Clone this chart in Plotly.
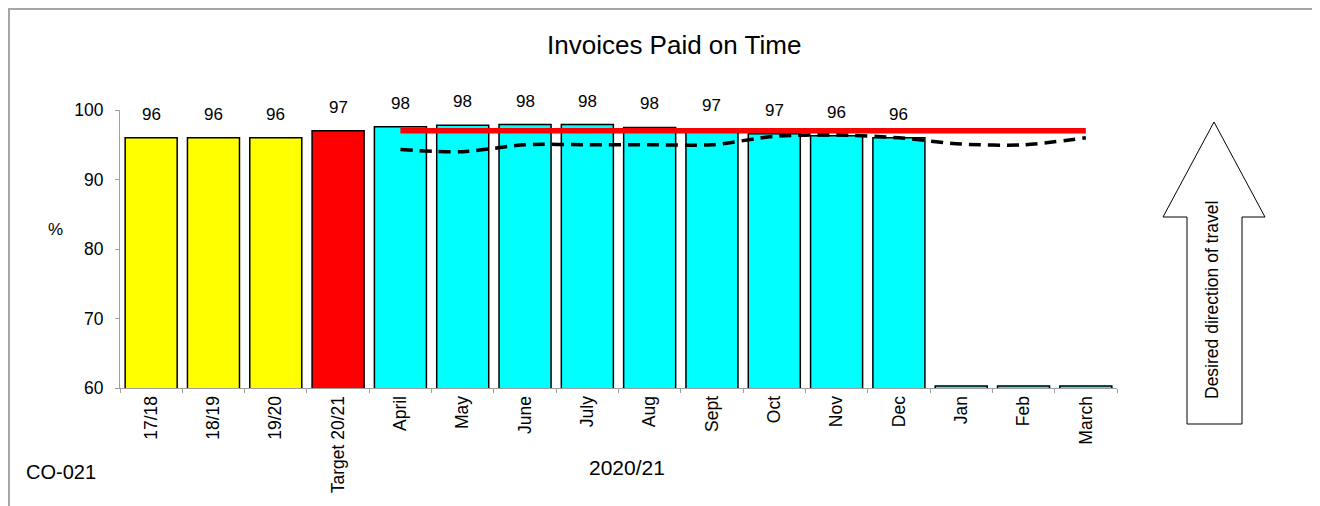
import plotly.graph_objects as go

categories = ["17/18", "18/19", "19/20", "Target 20/21", "April", "May", "June", "July",
              "Aug", "Sept", "Oct", "Nov", "Dec", "Jan", "Feb", "March"]
bar_values = [96.0, 96.0, 96.0, 97.0, 97.6, 97.8, 97.9, 97.9,
              97.5, 97.2, 96.6, 96.3, 96.0, 60.3, 60.3, 60.3]
bar_labels = ["96", "96", "96", "97", "98", "98", "98", "98",
              "98", "97", "97", "96", "96", "", "", ""]
bar_colors = ["#FFFF00"] * 3 + ["#FF0000"] + ["#00FFFF"] * 12

months = ["April", "May", "June", "July", "Aug", "Sept", "Oct", "Nov", "Dec", "Jan", "Feb", "March"]
target_values = [97] * 12
prev_values = [94.3, 94.0, 95.0, 95.0, 95.0, 95.0, 96.2, 96.4, 96.0, 95.1, 95.0, 96.0]

FONT = "Liberation Sans, Arial, sans-serif"

fig = go.Figure()
fig.add_trace(go.Bar(
    x=categories, y=bar_values,
    marker=dict(color=bar_colors, line=dict(color="black", width=1.5)),
    hoverinfo="x+y", showlegend=False,
))
fig.add_trace(go.Scatter(
    x=months, y=target_values, mode="lines",
    line=dict(color="#FF0000", width=5.5), showlegend=False,
))
fig.add_trace(go.Scatter(
    x=months, y=prev_values, mode="lines",
    line=dict(color="black", width=3.5, dash="12px,7px", shape="spline", smoothing=0.8),
    showlegend=False,
))

# data labels above bars
for c, v, t in zip(categories, bar_values, bar_labels):
    if t:
        fig.add_annotation(x=c, y=v, text=t, showarrow=False, yanchor="bottom",
                           yshift=12, font=dict(family=FONT, size=17, color="black"))

# page pixel -> paper helpers (plot area on page x:120..1117, y:110..388)
def fx(px):
    return (px - 120) / 997.0

def fy(py):
    return (388 - py) / 278.0

shapes = [
    dict(type="rect", xref="paper", yref="paper",
         x0=fx(9), x1=fx(1315), y0=fy(530), y1=fy(9),
         line=dict(color="#a6a6a6", width=2), layer="below"),
]
arrow_pts = [(1214, 122), (1265, 217), (1242, 217), (1242, 424), (1187, 424), (1187, 217), (1163, 217)]
path = "M " + " L ".join(f"{fx(x)},{fy(y)}" for x, y in arrow_pts) + " Z"
shapes.append(dict(type="path", xref="paper", yref="paper", path=path,
                   line=dict(color="black", width=1), fillcolor="white"))

annotations = [
    dict(text="Invoices Paid on Time", x=fx(674), y=fy(45), size=26),
    dict(text="%", x=fx(55), y=fy(229), size=17),
    dict(text="2020/21", x=fx(627), y=fy(467), size=21),
    dict(text="CO-021", x=fx(61), y=fy(472), size=20),
]
for a in annotations:
    fig.add_annotation(text=a["text"], x=a["x"], y=a["y"], xref="paper", yref="paper",
                       xanchor="center", yanchor="middle", showarrow=False,
                       font=dict(family=FONT, size=a["size"], color="black"))
fig.add_annotation(text="Desired direction of travel", x=fx(1212), y=fy(300),
                   xref="paper", yref="paper", xanchor="center", yanchor="middle",
                   showarrow=False, textangle=-90,
                   font=dict(family=FONT, size=17.5, color="black"))

fig.update_layout(
    width=1312, height=498, autosize=False,
    margin=dict(l=112, r=203, t=102, b=118),
    paper_bgcolor="white", plot_bgcolor="white",
    bargap=0.165, shapes=shapes,
    font=dict(family=FONT, size=12, color="black"),
)
fig.update_xaxes(
    type="category", categoryorder="array", categoryarray=categories,
    tickangle=-90, tickson="boundaries", ticks="outside", ticklen=4,
    tickcolor="#a0a0a0", showline=True, linecolor="#a0a0a0", linewidth=1,
    showgrid=False, automargin=False,
    tickfont=dict(family=FONT, size=17.5, color="black"),
)
fig.update_yaxes(
    range=[60, 100], dtick=10, ticks="outside", ticklen=4, tickcolor="#a0a0a0",
    showline=True, linecolor="#a0a0a0", linewidth=1, showgrid=False, zeroline=False,
    automargin=False, ticklabelstandoff=8,
    tickfont=dict(family=FONT, size=17.5, color="black"),
)

fig.write_html("out.html")
